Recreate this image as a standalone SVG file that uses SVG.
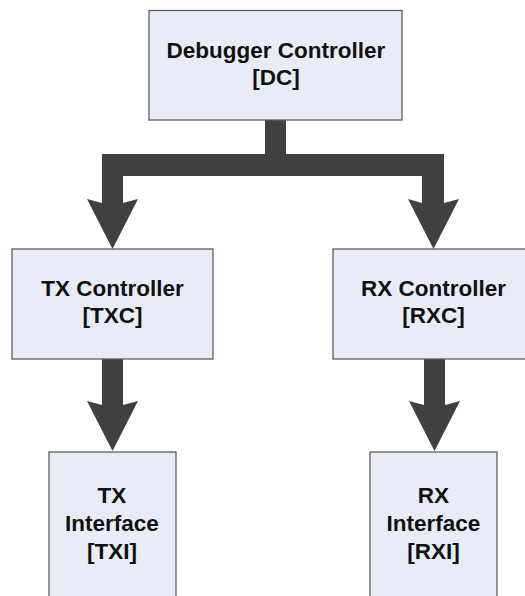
<svg xmlns="http://www.w3.org/2000/svg" width="525" height="596" viewBox="0 0 525 596">
  <style>
    .box { fill: #e8ecf6; stroke: #5f5f5f; stroke-width: 1.3; }
    .lbl { font-family: "Liberation Sans", Arial, sans-serif; font-weight: bold; font-size: 22.5px; fill: #111; text-anchor: middle; }
    .arrow { fill: #404040; stroke: none; }
  </style>
  <rect width="525" height="596" fill="#ffffff"/>

  <!-- Connectors: block arrows -->
  <g id="connectors">
    <!-- DC splits to TXC and RXC -->
    <polygon class="arrow" points="265,120 286,120 286,154 444,154 444,203 459,199 433.5,249 408,199 422,203 422,176 123,176 123,203 138,199 112.5,249 87,199 102,203 102,154 265,154"/>
    <!-- TXC to TXI -->
    <polygon class="arrow" points="102,359 123,359 123,405 138,401 112.5,451 87,401 102,405"/>
    <!-- RXC to RXI -->
    <polygon class="arrow" points="424,359 445,359 445,405 460,401 434.5,451 409,401 424,405"/>
  </g>

  <g id="dc">
    <rect class="box" x="149" y="10.5" width="253" height="109.5"/>
    <text class="lbl" x="276" y="57.5">Debugger Controller</text>
    <text class="lbl" x="276" y="84.5">[DC]</text>
  </g>

  <g id="txc">
    <rect class="box" x="12" y="249" width="201" height="110"/>
    <text class="lbl" x="112.5" y="296">TX Controller</text>
    <text class="lbl" x="112.5" y="323">[TXC]</text>
  </g>

  <g id="rxc">
    <rect class="box" x="333" y="249" width="201" height="110"/>
    <text class="lbl" x="433.5" y="296">RX Controller</text>
    <text class="lbl" x="433.5" y="323">[RXC]</text>
  </g>

  <g id="txi">
    <rect class="box" x="49" y="452" width="127" height="160"/>
    <text class="lbl" x="112" y="502.5">TX</text>
    <text class="lbl" x="112" y="531">Interface</text>
    <text class="lbl" x="112" y="559">[TXI]</text>
  </g>

  <g id="rxi">
    <rect class="box" x="370" y="452" width="127" height="160"/>
    <text class="lbl" x="433.5" y="502.5">RX</text>
    <text class="lbl" x="433.5" y="531">Interface</text>
    <text class="lbl" x="433.5" y="559">[RXI]</text>
  </g>
</svg>
